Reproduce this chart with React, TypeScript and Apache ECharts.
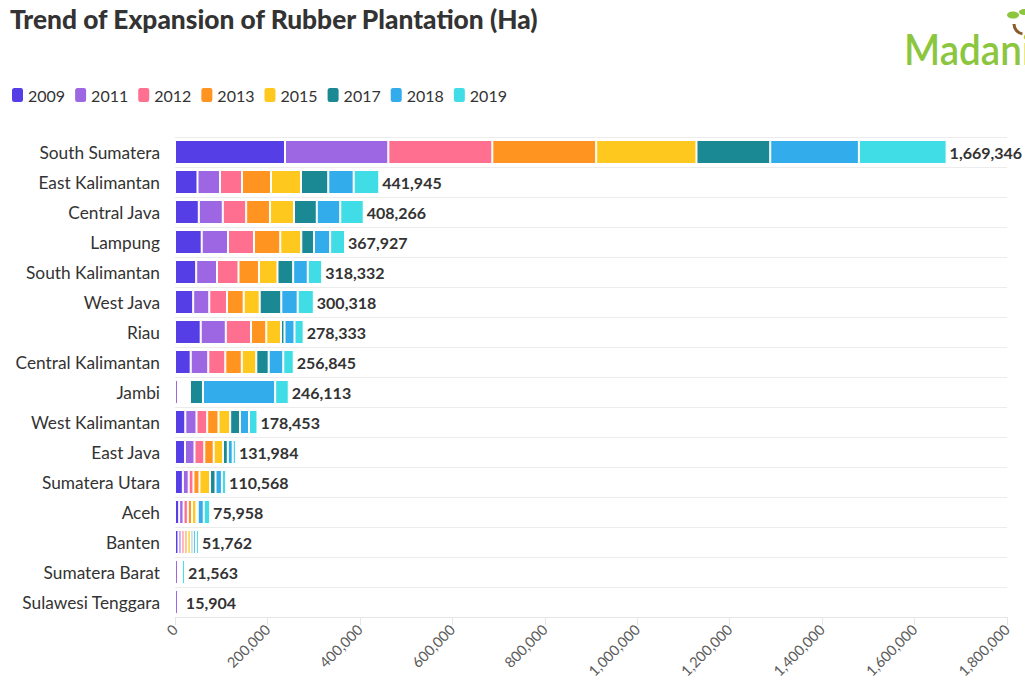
import React, { useEffect, useRef } from "react";
import * as echarts from "echarts";

const categories = [
  "South Sumatera", "East Kalimantan", "Central Java", "Lampung", "South Kalimantan",
  "West Java", "Riau", "Central Kalimantan", "Jambi", "West Kalimantan", "East Java",
  "Sumatera Utara", "Aceh", "Banten", "Sumatera Barat", "Sulawesi Tenggara",
];
const years = ["2009", "2011", "2012", "2013", "2015", "2017", "2018", "2019"];

const v2009 = [238000, 48670, 51480, 57750, 45860, 39370, 55590, 33960, 0, 22280, 21630, 16980, 9040, 7500, 0, 0];
const v2011 = [223500, 48670, 51910, 56890, 44990, 34820, 54290, 38070, 6500, 24230, 20550, 12640, 9400, 6500, 6500, 6500];
const vUnshown = [0, 0, 0, 0, 0, 0, 0, 0, 25900, 0, 0, 0, 0, 0, 8563, 9404];
const v2012 = [225000, 47590, 50610, 56240, 46500, 38290, 54510, 36770, 0, 23140, 21200, 10270, 9400, 6500, 0, 0];
const v2013 = [224700, 62730, 51480, 56890, 44340, 36120, 33090, 35690, 0, 24440, 20330, 13030, 9040, 6500, 0, 0];
const v2015 = [217000, 64890, 51910, 45420, 40020, 34610, 31800, 31360, 0, 25310, 20120, 22900, 9400, 7000, 0, 0];
const v2017 = [159600, 59050, 49320, 27470, 33960, 46720, 7570, 26820, 28100, 21200, 10380, 11850, 2890, 5500, 0, 0];
const v2018 = [191800, 54940, 50830, 35040, 31580, 35470, 21630, 31580, 156200, 19470, 10600, 13820, 13020, 6000, 0, 0];
const v2019 = [189746, 55405, 50726, 32227, 31082, 34918, 19853, 22595, 29413, 18383, 7174, 9078, 13768, 6262, 6500, 0];
const totals = [1669346, 441945, 408266, 367927, 318332, 300318, 278333, 256845, 246113, 178453, 131984, 110568, 75958, 51762, 21563, 15904];

const xTicks = { min: 0, max: 1800000, interval: 200000 };

const colors = ["#553ee6", "#9d66e3", "#ff7090", "#ff9420", "#ffc81e", "#1b8993", "#33acec", "#40dde6"];

const FONT = "Lato, 'Noto Sans', sans-serif";

export default function App() {
  const ref = useRef<HTMLDivElement>(null);
  useEffect(() => {
    if (!ref.current) return;
    const chart = echarts.init(ref.current, null, { renderer: "svg" });
    const seriesData = [v2009, v2011, v2012, v2013, v2015, v2017, v2018, v2019];
    const barBase = {
      type: "bar" as const,
      stack: "total",
      barWidth: "80%",
      itemStyle: { borderColor: "#ffffff", borderWidth: 1 },
    };
    const series: any[] = [];
    seriesData.forEach((d, i) => {
      series.push({
        ...barBase,
        name: years[i],
        data: d,
        itemStyle: { ...barBase.itemStyle, color: colors[i] },
        label:
          i === seriesData.length - 1
            ? {
                show: true,
                position: "right",
                distance: 3,
                formatter: (p: any) => totals[p.dataIndex].toLocaleString("en-US"),
                fontFamily: FONT,
                fontWeight: "bold",
                fontSize: 16,
                color: "#333333",
              }
            : { show: false },
      });
      if (i === 1) {
        series.push({
          ...barBase,
          name: "unshown",
          data: vUnshown,
          itemStyle: { color: "rgba(0,0,0,0)", borderWidth: 0 },
        });
      }
    });

    chart.setOption({
      animation: false,
      textStyle: { fontFamily: FONT },
      title: {
        text: "Trend of Expansion of Rubber Plantation (Ha)",
        left: 10,
        top: 6,
        padding: 0,
        textStyle: { fontFamily: FONT, fontWeight: 900, fontSize: 26.3, color: "#333333" },
      },
      graphic: [
        {
          type: "text",
          left: 904,
          top: 28,
          style: { text: "Madani", fontFamily: FONT, fontSize: 42, fontWeight: 600, fill: "#8cc63f" },
          scaleX: 0.92,
        },
        {
          type: "ellipse",
          shape: { cx: 1013, cy: 15, rx: 6, ry: 3.5 },
          style: { fill: "#8cc63f" },
        },
        {
          type: "ellipse",
          shape: { cx: 1024, cy: 12, rx: 5, ry: 3 },
          style: { fill: "#8cc63f" },
        },
        {
          type: "arc",
          shape: { cx: 1024, cy: 24, r: 10, startAngle: Math.PI * 0.55, endAngle: Math.PI * 1.0 },
          style: { stroke: "#8a5a2b", lineWidth: 3, fill: "none" },
        },
      ],
      legend: {
        data: years,
        left: 10,
        top: 86,
        padding: 0,
        itemWidth: 13,
        itemHeight: 16,
        itemGap: 8,
        icon: "roundRect",
        textStyle: { fontFamily: FONT, fontSize: 16, color: "#333333", padding: [0, 0, 0, -1] },
      },
      grid: { left: 175, right: 18, top: 137, bottom: 76, containLabel: false },
      xAxis: {
        type: "value",
        min: xTicks.min,
        max: xTicks.max,
        interval: xTicks.interval,
        axisLine: { show: true, lineStyle: { color: "#e6e6e6" } },
        axisTick: { show: true, length: 8, lineStyle: { color: "#e6e6e6" } },
        splitLine: { show: false },
        axisLabel: {
          rotate: 45,
          margin: 10,
          fontFamily: FONT,
          fontSize: 14.5,
          color: "#5c5c5c",
          formatter: (v: number) => v.toLocaleString("en-US"),
        },
      },
      yAxis: {
        type: "category",
        data: categories,
        inverse: true,
        axisLine: { show: false },
        axisTick: { show: false },
        splitLine: { show: true, lineStyle: { color: "#ececec" } },
        axisLabel: { margin: 15, fontFamily: FONT, fontSize: 17.3, color: "#333333" },
      },
      series,
    });
    return () => chart.dispose();
  }, []);
  return (
    <div
      ref={ref}
      style={{ position: "absolute", left: 0, top: 0, width: 1025, height: 693, background: "#ffffff" }}
    />
  );
}
